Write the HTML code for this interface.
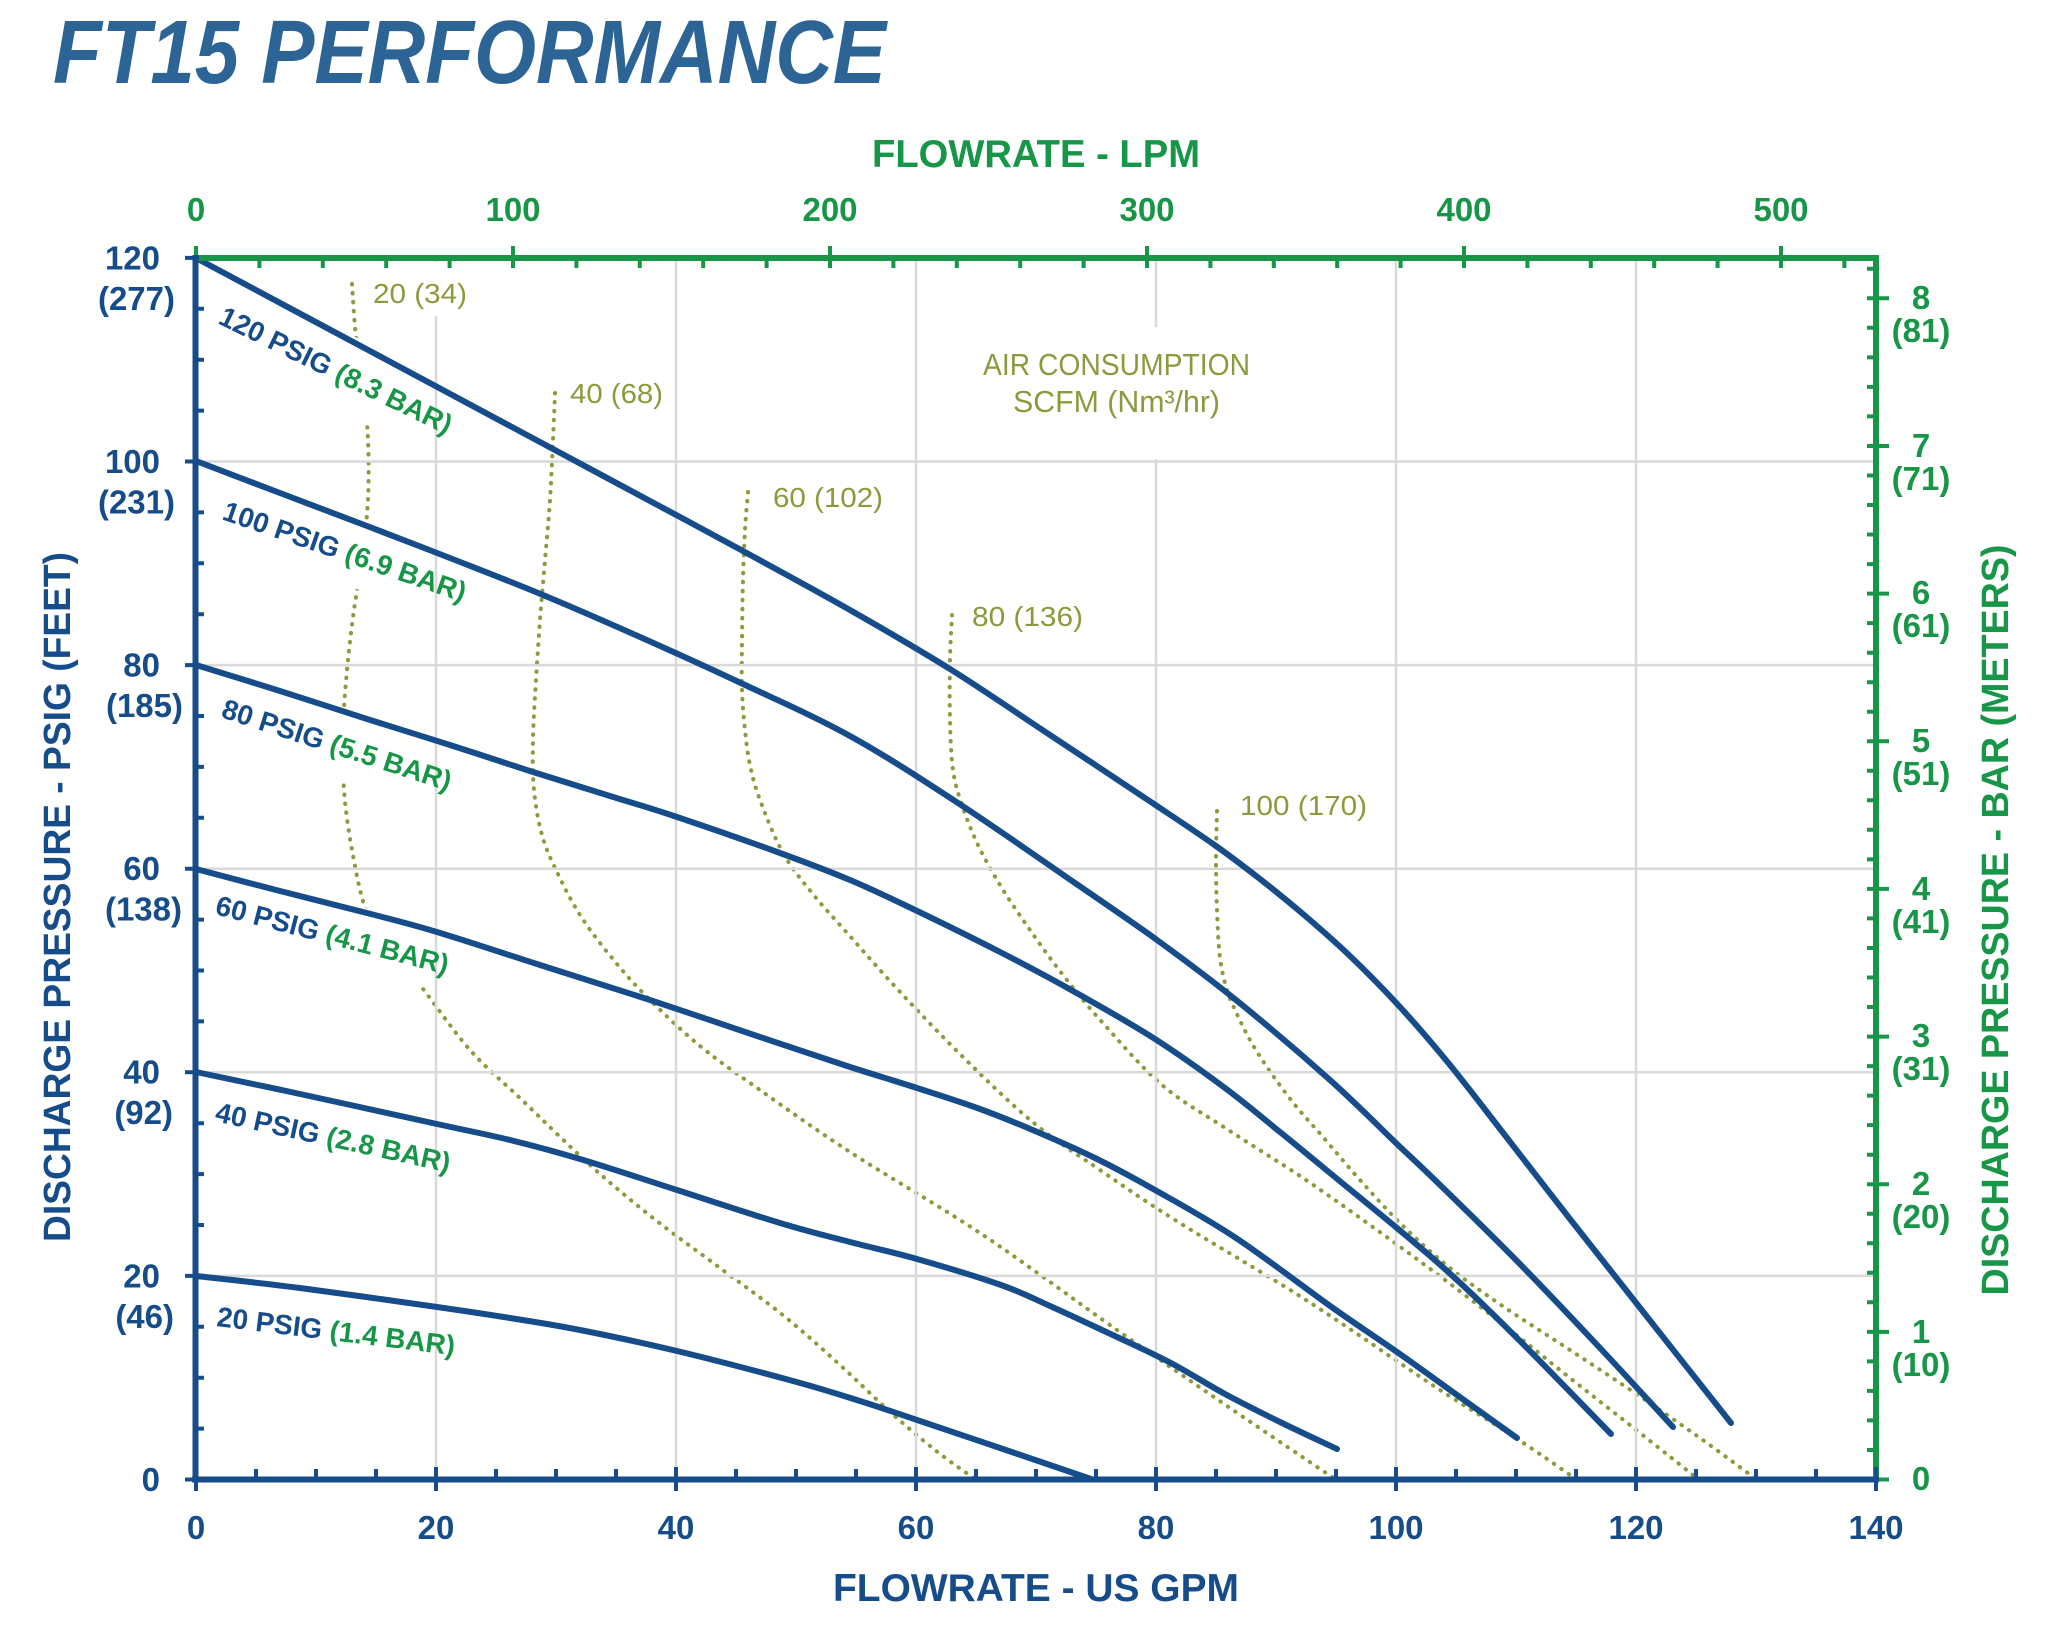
<!DOCTYPE html>
<html><head><meta charset="utf-8"><style>html,body{margin:0;padding:0;background:#fff}svg{display:block}</style></head>
<body>
<svg id="chart" xmlns="http://www.w3.org/2000/svg" width="2048" height="1626" viewBox="0 0 2048 1626" font-family="'Liberation Sans', Arial, sans-serif">
<rect width="2048" height="1626" fill="#fff"/>

<!-- air consumption dotted curves -->
<g stroke="#8c9b3c" stroke-width="4" fill="none" stroke-linecap="round" stroke-dasharray="0.5 8.5">
<polyline class="s" points="352,284 356,337 364,390 368,440 368,500 362,560 354,610 347,670 343,730 344,790 352,850 366,910 390,950 420,985 470,1050 522,1100 590,1165 653,1218 720,1268 784,1316 840,1365 888,1410 935,1450 975,1479"/>
<polyline class="s" points="555,393 553,440 550,500 545,560 540,620 536,680 533,740 534,790 542,835 556,870 580,915 612,958 647,997 700,1046 760,1090 850,1152 983,1235 1117,1330 1230,1408 1335,1479"/>
<polyline class="s" points="748,492 745,530 743,580 742,640 742,690 745,730 750,765 760,800 783,853 812,893 849,935 901,993 968,1062 1035,1124 1100,1170 1175,1220 1306,1300 1437,1388 1510,1434 1576,1479"/>
<polyline class="s" points="952,615 950,660 950,720 953,770 962,805 978,845 1000,885 1030,930 1063,975 1102,1022 1162,1085 1230,1131 1303,1178 1370,1225 1437,1274 1505,1326 1570,1378 1635,1429 1698,1479"/>
<polyline class="s" points="1217,811 1216,860 1217,910 1220,958 1227,990 1236,1012 1250,1040 1269,1070 1295,1105 1323,1137 1360,1180 1403,1226 1450,1268 1504,1307 1570,1350 1638,1395 1700,1438 1756,1479"/>
</g>

<!-- white label backgrounds for curve labels (hide dotted lines only) -->
<g fill="#fff">
<rect transform="translate(217,323) rotate(26)" x="-10" y="-48" width="270" height="74"/>
<rect transform="translate(221,519) rotate(19)" x="-10" y="-44" width="268" height="66"/>
<rect transform="translate(220,717) rotate(18)" x="-10" y="-44" width="262" height="66"/>
<rect transform="translate(214,914) rotate(14.6)" x="-10" y="-44" width="262" height="62"/>
<rect transform="translate(214,1121) rotate(12.4)" x="-10" y="-44" width="262" height="62"/>
<rect transform="translate(216,1326) rotate(7)" x="-10" y="-44" width="262" height="62"/>
</g>

<!-- gridlines -->
<g stroke="#d9d9d9" stroke-width="2.5" fill="none">
<path d="M436 258V1479M676 258V1479M916 258V1479M1156 258V1479M1396 258V1479M1636 258V1479"/>
<path d="M196 1275.9H1876M196 1072.3H1876M196 868.7H1876M196 665.1H1876M196 461.5H1876"/>
</g>

<!-- text boxes hiding gridlines -->
<g fill="#fff">
<rect x="366" y="262" width="106" height="54"/>
<rect x="975" y="327" width="283" height="132"/>
</g>

<!-- pump curves -->
<g stroke="#154c89" stroke-width="6" fill="none" stroke-linecap="round" stroke-linejoin="round">
<polyline class="s" points="196,258 370,351 553,449 650,501 743,551 850,610 950,669 1050,735 1157,806 1216,846 1260,879 1303,914 1350,956 1400,1007 1450,1065 1504,1134 1570,1219 1637,1304 1731,1423"/>
<polyline class="s" points="196,461 280,493 367,526 455,560 543,595 640,637 743,684 850,736 958,803 1075,883 1157,940 1236,1000 1330,1080 1397,1144 1437,1182 1517,1261 1600,1348 1673,1427"/>
<polyline class="s" points="196,665 280,691 367,719 450,745 533,772 610,796 677,817 780,853 850,880 913,909 1000,952 1073,991 1155,1039 1225,1088 1280,1132 1330,1173 1437,1262 1517,1338 1611,1434"/>
<polyline class="s" points="196,869 280,891 367,913 437,932 540,965 647,999 760,1037 847,1066 917,1088 980,1109 1035,1131 1095,1158 1155,1190 1236,1238 1333,1308 1397,1352 1457,1395 1517,1438"/>
<polyline class="s" points="196,1072 300,1094 437,1124 510,1140 580,1159 677,1190 780,1223 850,1242 917,1259 1001,1285 1050,1306 1102,1330 1169,1362 1225,1394 1280,1422 1337,1449"/>
<polyline class="s" points="196,1276 300,1288 437,1307 510,1318 580,1330 677,1351 793,1381 860,1401 917,1420 1000,1448 1091,1479"/>
</g>

<!-- axes -->
<g fill="none" stroke-width="4">
<path stroke="#189648" stroke-width="6" d="M193 258H1879"/>
<path stroke="#189648" d="M259.4 258V268M322.8 258V268M386.2 258V268M449.6 258V268M576.4 258V268M639.8 258V268M703.2 258V268M766.6 258V268M893.4 258V268M956.8 258V268M1020.2 258V268M1083.6 258V268M1210.4 258V268M1273.8 258V268M1337.2 258V268M1400.6 258V268M1527.4 258V268M1590.8 258V268M1654.2 258V268M1717.6 258V268M1844.4 258V268"/>
<path stroke="#189648" d="M196 246V268M513 246V268M830 246V268M1147 246V268M1464 246V268M1781 246V268"/>
<path stroke="#189648" stroke-width="6" d="M1876 255V1482"/>
<path stroke="#189648" d="M1867 1450H1876M1867 1420.4H1876M1867 1390.9H1876M1867 1361.4H1876M1867 1302.3H1876M1867 1272.8H1876M1867 1243.3H1876M1867 1213.7H1876M1867 1154.7H1876M1867 1125.1H1876M1867 1095.6H1876M1867 1066.1H1876M1867 1007H1876M1867 977.5H1876M1867 948H1876M1867 918.4H1876M1867 859.4H1876M1867 829.8H1876M1867 800.3H1876M1867 770.8H1876M1867 711.7H1876M1867 682.2H1876M1867 652.7H1876M1867 623.1H1876M1867 564.1H1876M1867 534.5H1876M1867 505H1876M1867 475.5H1876M1867 416.4H1876M1867 386.9H1876M1867 357.4H1876M1867 327.8H1876M1867 268.8H1876"/>
<path stroke="#189648" d="M1867 1479.5H1889M1867 1331.9H1889M1867 1184.2H1889M1867 1036.6H1889M1867 888.9H1889M1867 741.3H1889M1867 593.6H1889M1867 446H1889M1867 298.3H1889"/>
<path stroke="#154c89" stroke-width="6" d="M195.5 255V1482"/>
<path stroke="#154c89" d="M196 1428.6H204M196 1377.7H204M196 1326.8H204M196 1225H204M196 1174.1H204M196 1123.2H204M196 1021.4H204M196 970.5H204M196 919.6H204M196 817.8H204M196 766.9H204M196 716H204M196 614.2H204M196 563.3H204M196 512.4H204M196 410.6H204M196 359.7H204M196 308.8H204"/>
<path stroke="#154c89" d="M185 1479.5H199M185 1275.9H199M185 1072.3H199M185 868.7H199M185 665.1H199M185 461.5H199M185 257.9H199"/>
<path stroke="#154c89" stroke-width="6" d="M192 1479.5H1879"/>
<path stroke="#154c89" d="M256 1479V1469M316 1479V1469M376 1479V1469M496 1479V1469M556 1479V1469M616 1479V1469M736 1479V1469M796 1479V1469M856 1479V1469M976 1479V1469M1036 1479V1469M1096 1479V1469M1216 1479V1469M1276 1479V1469M1336 1479V1469M1456 1479V1469M1516 1479V1469M1576 1479V1469M1696 1479V1469M1756 1479V1469M1816 1479V1469"/>
<path stroke="#154c89" d="M196 1467V1491M436 1467V1491M676 1467V1491M916 1467V1491M1156 1467V1491M1396 1467V1491M1636 1467V1491M1876 1467V1491"/>
</g>

<!-- title -->
<text x="53" y="83" font-size="90" font-weight="bold" font-style="italic" fill="#2c6496" textLength="833" lengthAdjust="spacingAndGlyphs">FT15 PERFORMANCE</text>

<!-- axis titles -->
<text x="872" y="167" font-size="39" font-weight="bold" fill="#189648" textLength="328" lengthAdjust="spacingAndGlyphs">FLOWRATE - LPM</text>
<text x="833" y="1601" font-size="39" font-weight="bold" fill="#154c89" textLength="406" lengthAdjust="spacingAndGlyphs">FLOWRATE - US GPM</text>
<text transform="translate(70,897) rotate(-90)" x="-345" y="0" font-size="38" font-weight="bold" fill="#154c89" textLength="690" lengthAdjust="spacingAndGlyphs">DISCHARGE PRESSURE - PSIG (FEET)</text>
<text transform="translate(2008,920) rotate(-90)" x="-375.5" y="0" font-size="38" font-weight="bold" fill="#189648" textLength="751" lengthAdjust="spacingAndGlyphs">DISCHARGE PRESSURE - BAR (METERS)</text>

<!-- top tick labels -->
<g font-size="33" font-weight="bold" fill="#189648" text-anchor="middle">
<text x="196" y="221">0</text><text x="513" y="221">100</text><text x="830" y="221">200</text><text x="1147" y="221">300</text><text x="1464" y="221">400</text><text x="1781" y="221">500</text>
</g>
<!-- bottom tick labels -->
<g font-size="33" font-weight="bold" fill="#154c89" text-anchor="middle">
<text x="196" y="1539">0</text><text x="436" y="1539">20</text><text x="676" y="1539">40</text><text x="916" y="1539">60</text><text x="1156" y="1539">80</text><text x="1396" y="1539">100</text><text x="1636" y="1539">120</text><text x="1876" y="1539">140</text>
</g>
<!-- left tick labels -->
<g font-size="33" font-weight="bold" fill="#154c89" text-anchor="end">
<text x="160" y="269.5">120</text><text x="175" y="310">(277)</text>
<text x="160" y="473">100</text><text x="175" y="513.5">(231)</text>
<text x="160" y="676.5">80</text><text x="183" y="717">(185)</text>
<text x="160" y="880">60</text><text x="182" y="920.5">(138)</text>
<text x="160" y="1083.5">40</text><text x="173" y="1124">(92)</text>
<text x="160" y="1287.5">20</text><text x="174" y="1328">(46)</text>
<text x="160" y="1491">0</text>
</g>
<!-- right tick labels -->
<g font-size="33" font-weight="bold" fill="#189648" text-anchor="middle">
<text x="1921" y="309">8</text><text x="1921" y="342">(81)</text>
<text x="1921" y="457">7</text><text x="1921" y="490">(71)</text>
<text x="1921" y="604">6</text><text x="1921" y="637">(61)</text>
<text x="1921" y="752">5</text><text x="1921" y="785">(51)</text>
<text x="1921" y="900">4</text><text x="1921" y="933">(41)</text>
<text x="1921" y="1047">3</text><text x="1921" y="1080">(31)</text>
<text x="1921" y="1195">2</text><text x="1921" y="1228">(20)</text>
<text x="1921" y="1343">1</text><text x="1921" y="1376">(10)</text>
<text x="1921" y="1490">0</text>
</g>

<!-- air consumption labels -->
<g font-size="28" fill="#8a9a3c">
<text x="373" y="303" textLength="94" lengthAdjust="spacingAndGlyphs">20 (34)</text>
<text x="570" y="403" textLength="93" lengthAdjust="spacingAndGlyphs">40 (68)</text>
<text x="773" y="507" textLength="110" lengthAdjust="spacingAndGlyphs">60 (102)</text>
<text x="972" y="626" textLength="111" lengthAdjust="spacingAndGlyphs">80 (136)</text>
<text x="1240" y="815" textLength="127" lengthAdjust="spacingAndGlyphs">100 (170)</text>
</g>
<g font-size="31" fill="#8a9a3c">
<text x="983" y="375" textLength="267" lengthAdjust="spacingAndGlyphs">AIR CONSUMPTION</text>
<text x="1013" y="412" textLength="207" lengthAdjust="spacingAndGlyphs">SCFM (Nm³/hr)</text>
</g>

<!-- curve labels -->
<g font-size="28" font-weight="bold">
<text transform="translate(217,323) rotate(26)"><tspan fill="#154c89">120 PSIG</tspan><tspan fill="#189648"> (8.3 BAR)</tspan></text>
<text transform="translate(221,519) rotate(19)"><tspan fill="#154c89">100 PSIG</tspan><tspan fill="#189648"> (6.9 BAR)</tspan></text>
<text transform="translate(220,717) rotate(18)"><tspan fill="#154c89">80 PSIG</tspan><tspan fill="#189648"> (5.5 BAR)</tspan></text>
<text transform="translate(214,914) rotate(14.6)"><tspan fill="#154c89">60 PSIG</tspan><tspan fill="#189648"> (4.1 BAR)</tspan></text>
<text transform="translate(214,1121) rotate(12.4)"><tspan fill="#154c89">40 PSIG</tspan><tspan fill="#189648"> (2.8 BAR)</tspan></text>
<text transform="translate(216,1326) rotate(7)"><tspan fill="#154c89">20 PSIG</tspan><tspan fill="#189648"> (1.4 BAR)</tspan></text>
</g>
</svg>
<script>
(function(){
  var NS = "http://www.w3.org/2000/svg";
  var pls = document.querySelectorAll("polyline.s");
  for (var k = 0; k < pls.length; k++) {
    var pl = pls[k];
    var raw = pl.getAttribute("points").trim().split(/\s+/);
    var p = raw.map(function(s){ var a = s.split(","); return [parseFloat(a[0]), parseFloat(a[1])]; });
    if (p.length < 3) continue;
    var d = "M" + p[0][0] + " " + p[0][1];
    for (var i = 0; i < p.length - 1; i++) {
      var p0 = p[i-1] || p[i], p1 = p[i], p2 = p[i+1], p3 = p[i+2] || p[i+1];
      var c1x = p1[0] + (p2[0]-p0[0])/6, c1y = p1[1] + (p2[1]-p0[1])/6;
      var c2x = p2[0] - (p3[0]-p1[0])/6, c2y = p2[1] - (p3[1]-p1[1])/6;
      d += " C" + c1x.toFixed(1) + " " + c1y.toFixed(1) + " " + c2x.toFixed(1) + " " + c2y.toFixed(1) + " " + p2[0] + " " + p2[1];
    }
    var path = document.createElementNS(NS, "path");
    path.setAttribute("d", d);
    pl.parentNode.replaceChild(path, pl);
  }
})();
</script>
</body></html>
